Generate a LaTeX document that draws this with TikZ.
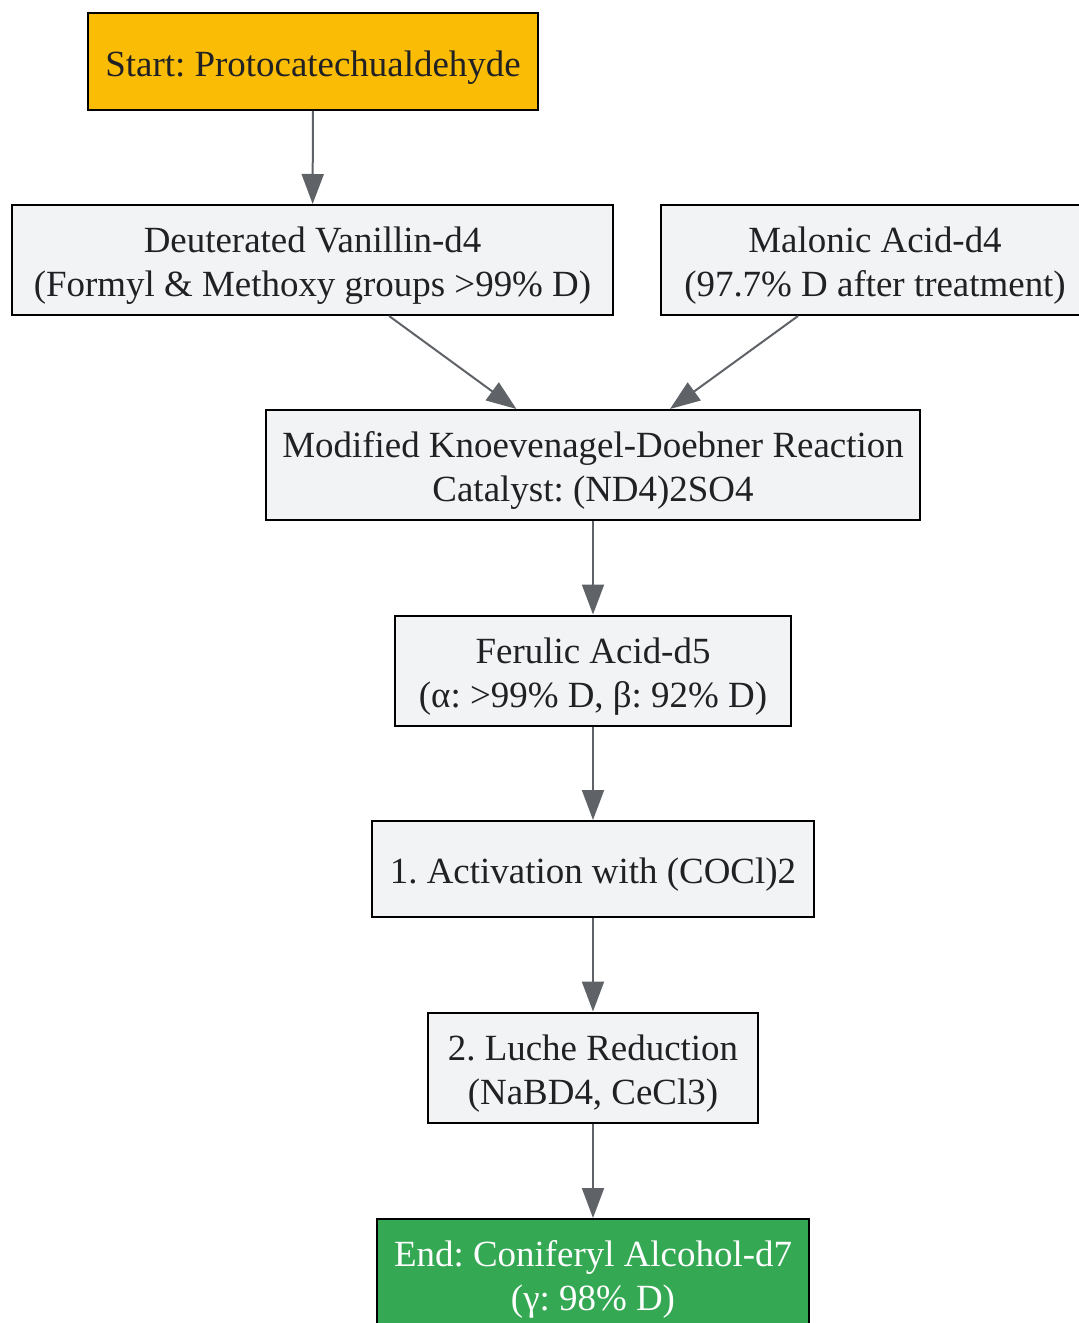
\documentclass[tikz,border=0pt]{standalone}
\usepackage{fontspec}
\setmainfont{Liberation Serif}
\usepackage{xcolor}
\usepackage{tikz}
\usetikzlibrary{arrows.meta, positioning}
\definecolor{boxfill}{HTML}{F1F3F4}
\definecolor{boxtext}{HTML}{202124}
\definecolor{edgegray}{HTML}{5F6368}
\definecolor{startfill}{HTML}{FBBC05}
\definecolor{endfill}{HTML}{34A853}
\newcommand{\tallstrut}{\rule{0pt}{28pt}}
\frenchspacing

\begin{document}
\begin{tikzpicture}[
    x=0.75pt, y=-0.75pt,
    stage/.style={rectangle, draw=black, line width=1.5pt, fill=boxfill,
                  text=boxtext, align=center, inner sep=0pt,
                  font=\fontsize{27.7}{33}\selectfont, minimum height=82.5pt},
    arrow/.style={-{Triangle[length=22.5pt, width=16.5pt]}, line width=1.5pt,
                  color=edgegray}
  ]
    \useasboundingbox (0,0) rectangle (1078,1323);

    % Stages
    \node[stage, fill=startfill, minimum width=337.5pt, minimum height=72.75pt]
      (start) at (313, 61.5) {\tallstrut Start: Protocatechualdehyde};
    \node[stage, minimum width=450.75pt] (vanillin) at (312.5, 260)
      {\tallstrut Deuterated Vanillin-d4\\(Formyl \& Methoxy groups >99\% D)};
    \node[stage, minimum width=321pt] (malonic) at (875, 260)
      {\tallstrut Malonic Acid-d4\\(97.7\% D after treatment)};
    \node[stage, minimum width=490.5pt] (knoev) at (593, 465)
      {\tallstrut Modified Knoevenagel-Doebner Reaction\\Catalyst: (ND4)2SO4};
    \node[stage, minimum width=297pt] (ferulic) at (593, 670.5)
      {\tallstrut Ferulic Acid-d5\\(α: >99\% D, β: 92\% D)};
    \node[stage, minimum width=331.5pt, minimum height=72pt] (activ) at (593, 869)
      {\tallstrut 1. Activation with (COCl)2};
    \node[stage, minimum width=247.5pt] (luche) at (593, 1067.5)
      {\tallstrut 2. Luche Reduction\\(NaBD4, CeCl3)};
    \node[stage, fill=endfill, text=white, minimum width=324pt] (coniferyl) at (593, 1274)
      {\tallstrut End: Coniferyl Alcohol-d7\\(γ: 98\% D)};

    % Arrows
    \draw[arrow] (start) -- (vanillin);
    \draw[arrow] (vanillin) -- (knoev);
    \draw[arrow] (malonic) -- (knoev);
    \draw[arrow] (knoev) -- (ferulic);
    \draw[arrow] (ferulic) -- (activ);
    \draw[arrow] (activ) -- (luche);
    \draw[arrow] (luche) -- (coniferyl);
  \end{tikzpicture}
\end{document}
